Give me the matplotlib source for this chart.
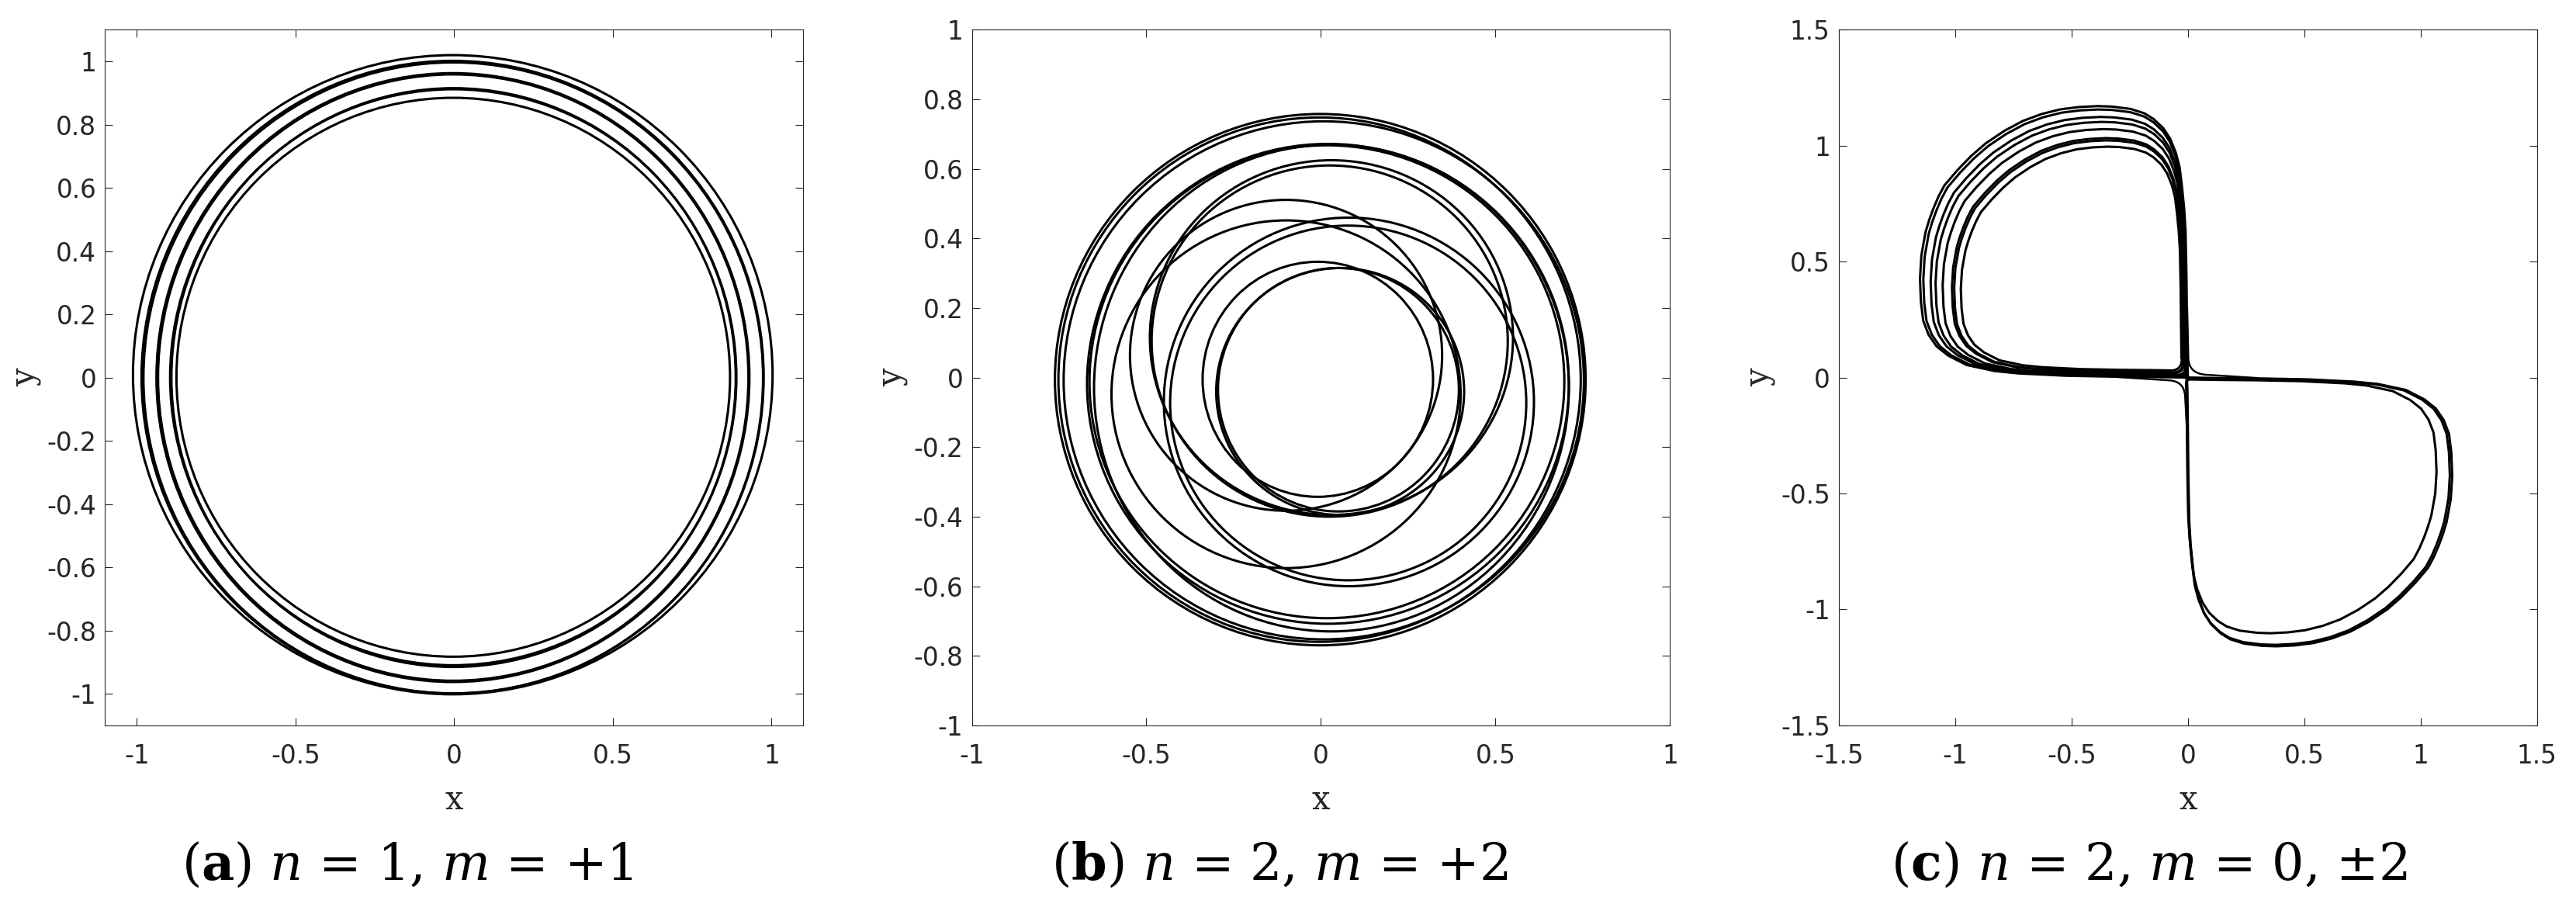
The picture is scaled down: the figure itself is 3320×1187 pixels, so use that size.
import numpy as np
import matplotlib
matplotlib.use("Agg")
import matplotlib.pyplot as plt
from matplotlib.patches import Ellipse, PathPatch
from matplotlib.path import Path

plt.rcParams['axes.unicode_minus'] = False
plt.rcParams['mathtext.fontset'] = 'dejavuserif'

# ---------------- data ----------------
# (a) n=1, m=+1 : nested near-circular loops (centre x, centre y, semi-axis x, semi-axis y)
a_cx = [-0.0045, -0.005, -0.003, -0.004, -0.003, -0.002, -0.003, -0.003]
a_cy = [0.009, 0.001, -0.001, 0.000, 0.000, 0.000, 0.001, 0.001]
a_rx = [1.0075, 0.980, 0.976, 0.934, 0.930, 0.889, 0.892, 0.872]
a_ry = [1.011, 1.001, 0.998, 0.963, 0.959, 0.9155, 0.911, 0.884]

# (b) n=2, m=+2 : precessing loops
b_cx = [-0.002, -0.004, 0.008, 0.020, 0.030, 0.017, 0.030, 0.025, -0.100, -0.100, 0.080, 0.078, -0.009, 0.055, 0.050]
b_cy = [-0.006, -0.006, -0.008, -0.018, -0.030, -0.012, 0.115, 0.105, 0.064, -0.048, -0.070, -0.073, -0.005, -0.040, -0.035]
b_rx = [0.760, 0.748, 0.745, 0.690, 0.680, 0.680, 0.520, 0.510, 0.447, 0.500, 0.530, 0.510, 0.330, 0.355, 0.345]
b_ry = [0.764, 0.754, 0.745, 0.690, 0.700, 0.680, 0.510, 0.505, 0.447, 0.500, 0.530, 0.510, 0.338, 0.355, 0.350]

# (c) n=2, m=0,+-2 : outer loop of the upper-left lobe (read points, corner at origin)
c_lobe_x = [-0.002, -0.004, -0.006, -0.010, -0.016, -0.026, -0.036, -0.052, -0.076, -0.106,
            -0.147, -0.187, -0.247, -0.327, -0.388, -0.468, -0.548, -0.628, -0.709, -0.789,
            -0.869, -0.930, -0.990, -1.046, -1.072, -1.094, -1.112, -1.127, -1.145, -1.151,
            -1.147, -1.137, -1.114, -1.080, -1.030, -0.950, -0.829, -0.729, -0.528, -0.327,
            -0.127, -0.064]
c_lobe_y = [0.064, 0.225, 0.427, 0.628, 0.728, 0.829, 0.909, 0.970, 1.030, 1.076,
            1.115, 1.140, 1.159, 1.169, 1.171, 1.167, 1.157, 1.137, 1.107, 1.064,
            1.010, 0.957, 0.895, 0.829, 0.780, 0.728, 0.678, 0.628, 0.527, 0.427,
            0.326, 0.245, 0.185, 0.135, 0.095, 0.054, 0.028, 0.018, 0.008, 0.004,
            0.002, 0.001]
# upper-left lobe loops: size, corner x, corner y, corner rounding
c_up_size = [1.000, 0.985, 0.955, 0.935, 0.905, 0.865, 0.855, 0.825]
c_up_ox = [0.000, -0.003, -0.006, -0.008, -0.012, -0.018, -0.020, -0.026]
c_up_oy = [0.000, 0.003, 0.006, 0.008, 0.012, 0.020, 0.022, 0.030]
c_up_rc = [0.004, 0.010, 0.015, 0.020, 0.030, 0.040, 0.045, 0.050]
# lower-right lobe loops (the same shape turned by 180 degrees)
c_dn_size = [0.990, 0.983, 0.935]
c_dn_ox = [-0.004, -0.006, -0.008]
c_dn_oy = [0.000, -0.002, -0.008]
c_dn_rc = [0.004, 0.008, 0.020]
# short passages near the saddle point (quadrants I and III)
c_q1_x = [-0.003, 0.002, 0.006, 0.080, 0.300]
c_q1_y = [0.300, 0.080, 0.016, 0.012, -0.002]
c_q3_x = [-0.300, -0.080, -0.016, -0.012, 0.000]
c_q3_y = [0.002, -0.012, -0.016, -0.080, -0.300]

# axes settings
a_lim = [-1.1, 1.1]
b_lim = [-1.0, 1.0]
c_lim = [-1.5, 1.5]
a_xticks = [-1, -0.5, 0, 0.5, 1]
a_yticks = [-1, -0.8, -0.6, -0.4, -0.2, 0, 0.2, 0.4, 0.6, 0.8, 1]
b_xticks = [-1, -0.5, 0, 0.5, 1]
b_yticks = [-1, -0.8, -0.6, -0.4, -0.2, 0, 0.2, 0.4, 0.6, 0.8, 1]
c_xticks = [-1.5, -1, -0.5, 0, 0.5, 1, 1.5]
c_yticks = [-1.5, -1, -0.5, 0, 0.5, 1, 1.5]
captions = [r'($\mathbf{a}$) $n$ = 1, $m$ = +1',
            r'($\mathbf{b}$) $n$ = 2, $m$ = +2',
            r'($\mathbf{c}$) $n$ = 2, $m$ = 0, ±2']

# ---------------- drawing ----------------
LW = 2.2
INK = '#262626'
fig = plt.figure(figsize=(33.2, 11.87), dpi=100)

lefts = [0.04078, 0.37726, 0.71380]
bottom, width, height = 0.2125, 0.27108, 0.7551
cap_x = [0.1580, 0.4967, 0.8343]
cap_y = 0.0447


def fmt(v):
    s = ('%g' % v)
    return '0' if s in ('-0', '0') else s


def style(ax, lim, xt, yt):
    ax.set_xlim(lim)
    ax.set_ylim(lim)
    ax.set_xticks(xt)
    ax.set_yticks(yt)
    ax.set_xticklabels([fmt(v) for v in xt])
    ax.set_yticklabels([fmt(v) for v in yt])
    for sp in ax.spines.values():
        sp.set_color(INK)
        sp.set_linewidth(0.8)
    ax.tick_params(direction='in', length=7, width=0.8, color=INK,
                   top=True, right=True, labelcolor=INK,
                   labelsize=23.5)
    ax.tick_params(axis='x', pad=17)
    ax.tick_params(axis='y', pad=8)
    for lab in ax.get_xticklabels() + ax.get_yticklabels():
        lab.set_fontfamily('DejaVu Sans')
    ax.set_xlabel('x', fontsize=30, fontfamily='DejaVu Serif', color=INK)
    ax.set_ylabel('y', fontsize=30, fontfamily='DejaVu Serif', color=INK)
    ax.xaxis.label.set_va('baseline')
    ax.xaxis.set_label_coords(0.5, -0.121)
    ax.yaxis.set_label_coords(-0.0912, 0.5)


axes = [fig.add_axes([l, bottom, width, height]) for l in lefts]

# (a)
ax = axes[0]
for cx, cy, rx, ry in zip(a_cx, a_cy, a_rx, a_ry):
    ax.add_patch(Ellipse((cx, cy), 2 * rx, 2 * ry, fill=False, ec='black', lw=LW))
style(ax, a_lim, a_xticks, a_yticks)

# (b)
ax = axes[1]
for cx, cy, rx, ry in zip(b_cx, b_cy, b_rx, b_ry):
    ax.add_patch(Ellipse((cx, cy), 2 * rx, 2 * ry, fill=False, ec='black', lw=LW))
style(ax, b_lim, b_xticks, b_yticks)

# (c)
ax = axes[2]
T = np.column_stack([c_lobe_x, c_lobe_y])


def lobe_path(size, ox, oy, rc, sign):
    pts = sign * size * T + np.array([ox, oy])
    k = np.array([ox, oy])
    start = k + sign * np.array([-rc, 0.0])
    end = k + sign * np.array([0.0, rc])
    verts = [start, k, end] + list(pts) + [start]
    codes = [Path.MOVETO, Path.CURVE3, Path.CURVE3] + [Path.LINETO] * (len(pts) + 1)
    return Path(verts, codes)


for s, ox, oy, rc in zip(c_up_size, c_up_ox, c_up_oy, c_up_rc):
    ax.add_patch(PathPatch(lobe_path(s, ox, oy, rc, 1.0), fill=False, ec='black',
                           lw=LW, joinstyle='round'))
for s, ox, oy, rc in zip(c_dn_size, c_dn_ox, c_dn_oy, c_dn_rc):
    ax.add_patch(PathPatch(lobe_path(s, ox, oy, rc, -1.0), fill=False, ec='black',
                           lw=LW, joinstyle='round'))
corner_codes = [Path.MOVETO, Path.LINETO, Path.CURVE3, Path.CURVE3, Path.LINETO]
for qx, qy in ((c_q1_x, c_q1_y), (c_q3_x, c_q3_y)):
    ax.add_patch(PathPatch(Path(np.column_stack([qx, qy]), corner_codes), fill=False,
                           ec='black', lw=LW * 0.8))
style(ax, c_lim, c_xticks, c_yticks)

for x, txt in zip(cap_x, captions):
    fig.text(x, cap_y, txt, fontsize=47, fontfamily='DejaVu Serif',
             ha='center', va='baseline', color='black')

fig.savefig('out.png', dpi=100, facecolor='white')
